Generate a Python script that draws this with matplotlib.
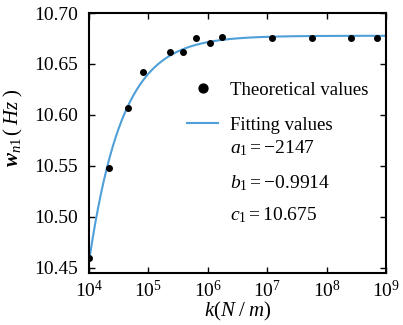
import numpy as np
import matplotlib
matplotlib.use("Agg")
import matplotlib.pyplot as plt

plt.rcParams["font.family"] = ["Liberation Serif", "DejaVu Serif"]
plt.rcParams["mathtext.fontset"] = "custom"
plt.rcParams["mathtext.rm"] = "Liberation Serif"
plt.rcParams["mathtext.it"] = "Liberation Serif:italic"
plt.rcParams["mathtext.bf"] = "Liberation Serif:bold"
plt.rcParams["mathtext.bfit"] = "Liberation Serif:bold:italic"

## theoretical values
k_vals = [1e4, 2.2e4, 4.5e4, 8.2e4, 2.3e5, 3.8e5, 6.3e5, 1.07e6, 1.7e6,
          1.2e7, 5.6e7, 2.6e8, 7e8]
w_vals = [10.460, 10.548, 10.607, 10.642, 10.662, 10.662, 10.675, 10.671,
          10.676, 10.675, 10.675, 10.675, 10.675]

## fit parameters as printed on the chart
a1, b1, c1 = -2147, -0.9914, 10.675

xticks = [1e4, 1e5, 1e6, 1e7, 1e8, 1e9]
yticks = [10.45, 10.50, 10.55, 10.60, 10.65, 10.70]

## least squares fit w = a * k^b + c to the theoretical points (for the drawn line)
k_arr = np.array(k_vals) / 1e4
w_arr = np.array(w_vals)
best = None
for b in np.linspace(-2.0, -0.2, 361):
    A = np.column_stack([k_arr ** b, np.ones_like(k_arr)])
    coef, res, _, _ = np.linalg.lstsq(A, w_arr, rcond=None)
    sse = np.sum((A @ coef - w_arr) ** 2)
    if best is None or sse < best[0]:
        best = (sse, b, coef)
_, b_fit, (a_fit, c_fit) = best

fig = plt.figure(figsize=(4.03, 3.25), dpi=100)
ax = fig.add_axes([0.221, 0.16, 0.737, 0.80])

k_line = np.logspace(4, 9, 400)
w_line = a_fit * (k_line / 1e4) ** b_fit + c_fit
ax.plot(k_line, w_line, color="#4f9fd8", lw=1.5, label="Fitting values", zorder=2)
ax.plot(k_vals, w_vals, "o", color="black", ms=4, label="Theoretical values",
        zorder=3, linestyle="none")

ax.set_xscale("log")
ax.set_xlim(1e4, 1e9)
ax.set_ylim(10.445, 10.70)
ax.set_xticks(xticks)
ax.set_yticks(yticks)
ax.set_yticklabels([f"{v:.2f}" for v in yticks])
ax.minorticks_off()
ax.tick_params(direction="in", length=4, width=1, top=True, right=True,
               labelsize=14)
ax.tick_params(axis="y", pad=8)
ax.tick_params(axis="x", pad=5)
for s in ax.spines.values():
    s.set_linewidth(1.5)

ax.set_xlabel(r"$k(N\;/\;m)$", fontsize=15, labelpad=-1)
ax.set_ylabel(r"$\mathbfit{w}_{\mathit{n}1}\,(\;\mathit{Hz}\;)$", fontsize=15)
ax.yaxis.set_label_coords(-0.215, 0.56)

handles, labels = ax.get_legend_handles_labels()
ax.legend(handles[::-1], labels[::-1], loc="upper left",
          bbox_to_anchor=(0.33, 0.735), frameon=False, fontsize=13.5,
          handlelength=1.65, labelspacing=0.95, markerscale=1.6,
          handletextpad=0.65, borderpad=0, borderaxespad=0)

ax.text(0.475, 0.481, r"$a_1=-2147$", transform=ax.transAxes, fontsize=14,
        va="center")
ax.text(0.475, 0.346, r"$b_1=-0.9914$", transform=ax.transAxes, fontsize=14,
        va="center")
ax.text(0.475, 0.223, r"$c_1=10.675$", transform=ax.transAxes, fontsize=14,
        va="center")

fig.savefig("out.png", dpi=100)
